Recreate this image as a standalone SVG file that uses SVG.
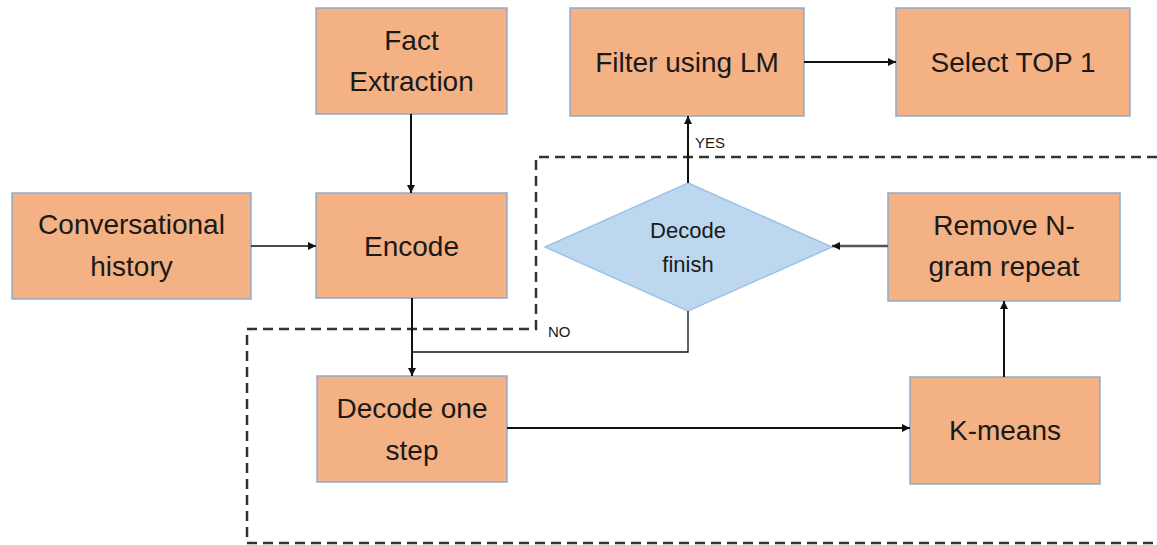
<svg xmlns="http://www.w3.org/2000/svg" width="1157" height="545" viewBox="0 0 1157 545">
<style>
.box{fill:#F4B183;stroke:#8FAACC;stroke-width:1.5}
.dia{fill:#BDD7EE;stroke:#9DC3E6;stroke-width:1.5}
.t{font-family:"Liberation Sans",Arial,sans-serif;font-size:28px;fill:#1a1a1a;text-anchor:middle}
.ts{font-family:"Liberation Sans",Arial,sans-serif;font-size:22px;fill:#1a1a1a;text-anchor:middle}
.lbl{font-family:"Liberation Sans",Arial,sans-serif;font-size:15px;fill:#1a1a1a}
.c{fill:none;stroke:#111;stroke-width:2}
.cthin{fill:none;stroke:#111;stroke-width:1.3}
.dash{fill:none;stroke:#333;stroke-width:2.5;stroke-dasharray:10 6}
</style>
<defs>
<marker id="ah" viewBox="0 0 10 10" refX="10" refY="5" markerWidth="8" markerHeight="8" markerUnits="userSpaceOnUse" orient="auto">
<path d="M0,0 L10,5 L0,10 z" fill="#111"/>
</marker>
</defs>
<g id="boundary">
<path class="dash" d="M1157,157 H536 V329 H247 V543 H1157"/>
</g>
<g id="fact"><rect class="box" x="316" y="8" width="191" height="106"/><text class="t" x="411.5" y="50">Fact</text><text class="t" x="411.5" y="91">Extraction</text></g>
<g id="filter"><rect class="box" x="570" y="8" width="234" height="108"/><text class="t" x="687" y="72">Filter using LM</text></g>
<g id="select"><rect class="box" x="896" y="8" width="234" height="108"/><text class="t" x="1013" y="72">Select TOP 1</text></g>
<g id="conv"><rect class="box" x="12" y="193" width="239" height="106"/><text class="t" x="131.5" y="234">Conversational</text><text class="t" x="131.5" y="276">history</text></g>
<g id="encode"><rect class="box" x="316" y="193" width="191" height="105"/><text class="t" x="411.5" y="256">Encode</text></g>
<g id="decide"><polygon class="dia" points="688,183 832,247 688,311 545,247"/><text class="ts" x="688" y="238">Decode</text><text class="ts" x="688" y="272">finish</text></g>
<g id="remove"><rect class="box" x="888" y="193" width="232" height="108"/><text class="t" x="1004" y="235">Remove N-</text><text class="t" x="1004" y="276">gram repeat</text></g>
<g id="decodeone"><rect class="box" x="317" y="376" width="190" height="106"/><text class="t" x="412" y="418">Decode one</text><text class="t" x="412" y="460">step</text></g>
<g id="kmeans"><rect class="box" x="910" y="377" width="190" height="107"/><text class="t" x="1005" y="440">K-means</text></g>
<g id="connectors">
<path class="c" d="M411,114 V193" marker-end="url(#ah)"/>
<path class="cthin" d="M251,246 H316" marker-end="url(#ah)"/>
<path class="c" d="M412,298 V376" marker-end="url(#ah)"/>
<path class="cthin" d="M688,311 V352 H412"/>
<path class="c" d="M507,428 H910" marker-end="url(#ah)"/>
<path class="c" d="M1004,377 V301" marker-end="url(#ah)"/>
<path class="c" style="stroke:#555;stroke-width:2.5" d="M888,246 H832" marker-end="url(#ah)"/>
<path class="c" d="M688,183 V116" marker-end="url(#ah)"/>
<path class="c" d="M804,62 H896" marker-end="url(#ah)"/>
<text class="lbl" x="695" y="148">YES</text>
<text class="lbl" x="548" y="337">NO</text>
</g>
</svg>
